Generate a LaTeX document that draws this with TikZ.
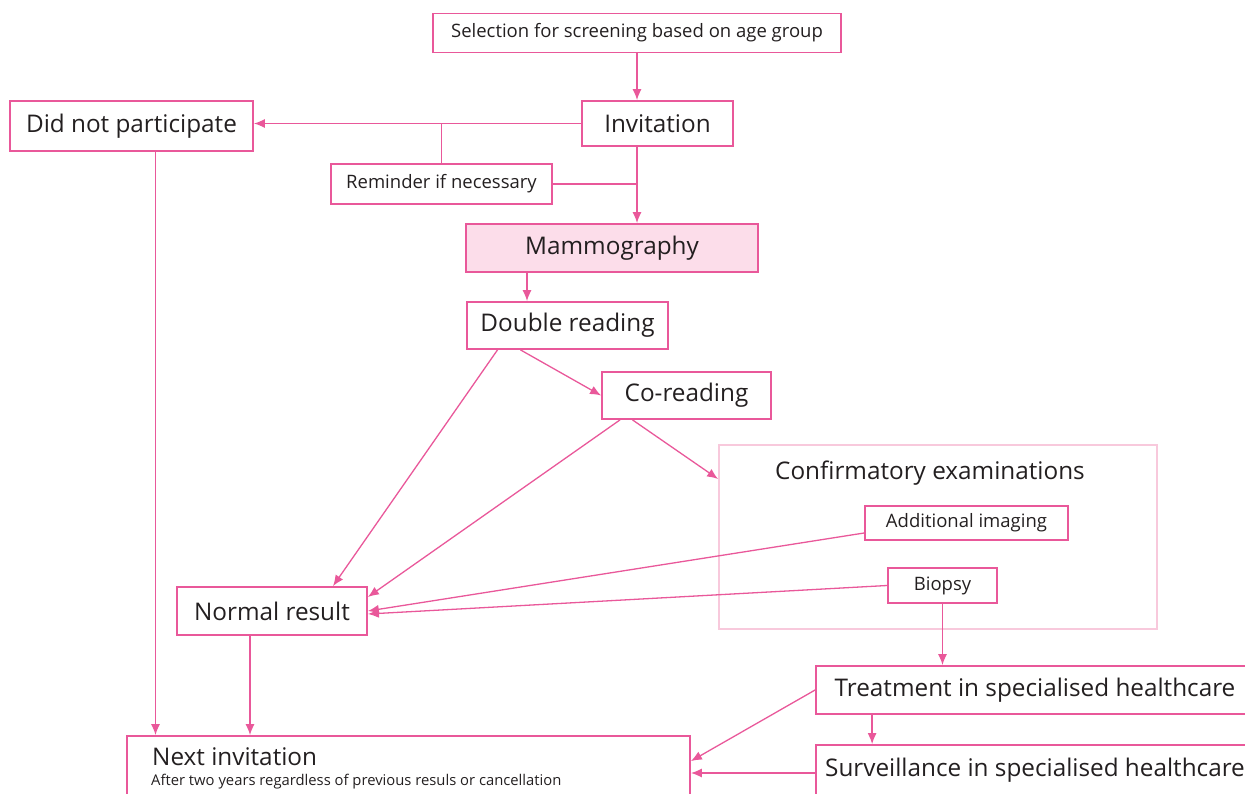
\documentclass[tikz,border=0pt]{standalone}
\usepackage{fontspec}
\setmainfont{Open Sans}
\usetikzlibrary{arrows.meta}
\definecolor{screenpink}{HTML}{E9589A}
\definecolor{mammofill}{HTML}{FCDDEA}
\definecolor{confpink}{HTML}{F8C9DC}
\definecolor{inktext}{HTML}{231F20}

\begin{document}
\begin{tikzpicture}[x=1pt,y=-1pt]
    \tikzset{box/.style = {draw=screenpink,line width=1.8pt,text=inktext,inner sep=0pt},
             big/.style = {font=\fontsize{24.3}{28}\selectfont},
             small/.style = {font=\fontsize{18.5}{22}\selectfont},
             arr/.style = {draw=screenpink,line width=1.3pt,-{Latex[length=11pt,width=9pt]}},
             link/.style = {draw=screenpink,line width=1.3pt}}
    \clip (0,0) rectangle (1245,794);

    % Boxes with large text
    \foreach \name/\pos/\w/\h/\txt in {dnp/{(131.5,126)}/243/50/Did not participate,
            inv/{(657.5,123.5)}/151/45/Invitation,
            dbl/{(567.5,325.5)}/201/47/Double reading,
            co/{(686.5,395.5)}/169/47/Co-reading,
            norm/{(272,611)}/190/48/Normal result,
            treat/{(1035,690)}/438/48/Treatment in specialised healthcare,
            surv/{(1035,770)}/438/50/Surveillance in specialised healthcare}
        \node[box,big,minimum width=\w pt,minimum height=\h pt] (\name) at \pos {\txt};

    % Boxes with small text
    \foreach \name/\pos/\w/\h/\txt in {sel/{(637,33)}/408/39/Selection for screening based on age group,
            rem/{(441.5,184)}/221/40/Reminder if necessary,
            addi/{(966.5,523)}/203/34/Additional imaging,
            bio/{(942.5,585.5)}/109/35/Biopsy}
        \node[box,small,minimum width=\w pt,minimum height=\h pt] (\name) at \pos {\txt};

    \node[box,big,fill=mammofill,minimum width=292pt,minimum height=48pt] (mam) at (612,248) {Mammography};

    % Confirmatory examinations frame
    \node[draw=confpink,line width=1.8pt,minimum width=438pt,minimum height=184pt] (conf) at (938,537) {};
    \node[big,text=inktext] (conftitle) at (930,473) {Confirmatory examinations};

    % Next invitation
    \node[box,minimum width=563pt,minimum height=70pt] (next) at (408.5,771) {};
    \node[big,text=inktext,anchor=west,inner sep=0pt] (nexttitle) at (152,757) {Next invitation};
    \node[text=inktext,anchor=west,inner sep=0pt,font=\fontsize{14.8}{17}\selectfont] (nextnote) at (151,782)
        {After two years regardless of previous resuls or cancellation};

    % Connectors
    \draw[arr] (sel.south) -- (sel.south |- inv.north);
    \draw[arr] (inv.west) -- (inv.west -| dnp.east);
    \coordinate (remjoin) at (rem.north |- inv.west);
    \draw[link] (remjoin) -- (rem.north);
    \draw[arr] (inv.south -| sel.south) -- (mam.north -| sel.south);
    \draw[link] (rem.east) -- (rem.east -| sel.south);
    \draw[arr] ([xshift=24pt]dnp.south) -- ([xshift=24pt]dnp.south |- next.north);
    \draw[arr] ([xshift=-40.5pt]dbl.north |- mam.south) -- ([xshift=-40.5pt]dbl.north);
    \draw[arr] ([xshift=-70pt]dbl.south) -- ([xshift=61pt]norm.north);
    \draw[arr] ([xshift=-47pt]dbl.south) -- (co.west);
    \draw[arr] ([xshift=-66.5pt]co.south) -- ([yshift=14pt]norm.east);
    \draw[arr] ([xshift=-54pt]co.south) -- ([yshift=58pt]conf.west);
    \draw[arr] ([yshift=-10pt]addi.west) -- (norm.east);
    \draw[arr] (bio.west) -- ([yshift=-3pt]norm.east);
    \draw[arr] (bio.south) -- (bio.south |- treat.north);
    \draw[arr] ([xshift=-22pt]norm.south) -- ([xshift=-22pt]norm.south |- next.north);
    \draw[arr] (treat.west) -- ([yshift=-26pt]next.north east);
    \draw[arr] ([xshift=57pt]treat.south west) -- ([xshift=57pt]treat.south west |- surv.north);
    \draw[arr] ([yshift=-3pt]surv.west) -- ([yshift=-3pt]surv.west -| next.east);
\end{tikzpicture}
\end{document}
